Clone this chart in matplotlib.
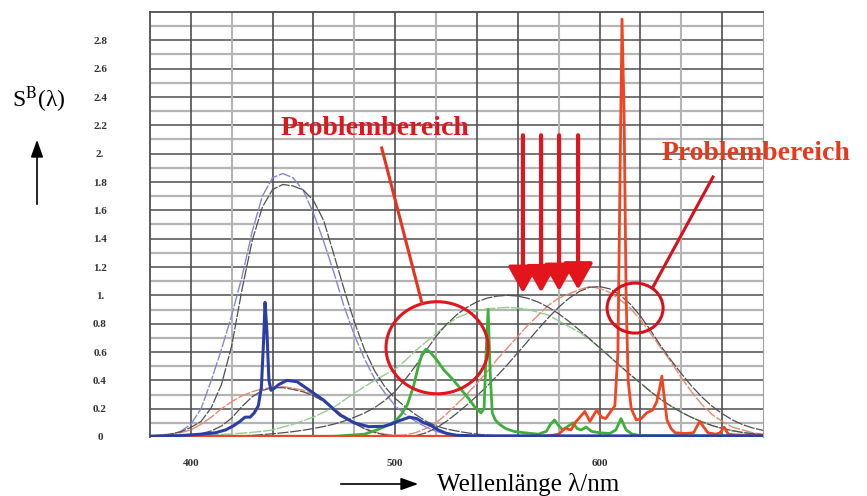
import numpy as np
import matplotlib
matplotlib.use("Agg")
import matplotlib.pyplot as plt
from matplotlib.patches import Ellipse, FancyArrowPatch

matplotlib.rcParams['font.family'] = ['Liberation Serif', 'DejaVu Serif']
matplotlib.rcParams['mathtext.fontset'] = 'stix'

# wavelength grid for the smooth curves (nm)
wl = np.arange(380, 681, 5)

# CIE 1931 colour matching functions (grey curves)
x_bar = [0.0014, 0.0022, 0.0042, 0.0077, 0.0143, 0.0232, 0.0435, 0.0776, 0.1344, 0.2148,
         0.2839, 0.3285, 0.3483, 0.3481, 0.3362, 0.3187, 0.2908, 0.2511, 0.1954, 0.1421,
         0.0956, 0.0580, 0.0320, 0.0147, 0.0049, 0.0024, 0.0093, 0.0291, 0.0633, 0.1096,
         0.1655, 0.2257, 0.2904, 0.3597, 0.4334, 0.5121, 0.5945, 0.6784, 0.7621, 0.8425,
         0.9163, 0.9786, 1.0263, 1.0567, 1.0622, 1.0456, 1.0026, 0.9384, 0.8544, 0.7514,
         0.6424, 0.5419, 0.4479, 0.3608, 0.2835, 0.2187, 0.1649, 0.1212, 0.0874, 0.0636,
         0.0468]
y_bar = [0.0000, 0.0001, 0.0001, 0.0002, 0.0004, 0.0006, 0.0012, 0.0022, 0.0040, 0.0073,
         0.0116, 0.0168, 0.0230, 0.0298, 0.0380, 0.0480, 0.0600, 0.0739, 0.0910, 0.1126,
         0.1390, 0.1693, 0.2080, 0.2586, 0.3230, 0.4073, 0.5030, 0.6082, 0.7100, 0.7932,
         0.8620, 0.9149, 0.9540, 0.9803, 0.9950, 1.0000, 0.9950, 0.9786, 0.9520, 0.9154,
         0.8700, 0.8163, 0.7570, 0.6949, 0.6310, 0.5668, 0.5030, 0.4412, 0.3810, 0.3210,
         0.2650, 0.2170, 0.1750, 0.1382, 0.1070, 0.0816, 0.0610, 0.0446, 0.0320, 0.0232,
         0.0170]
z_bar = [0.0065, 0.0106, 0.0201, 0.0362, 0.0679, 0.1102, 0.2074, 0.3713, 0.6456, 1.0391,
         1.3856, 1.6230, 1.7471, 1.7826, 1.7721, 1.7441, 1.6692, 1.5281, 1.2876, 1.0419,
         0.8130, 0.6162, 0.4652, 0.3533, 0.2720, 0.2123, 0.1582, 0.1117, 0.0783, 0.0573,
         0.0422, 0.0298, 0.0203, 0.0134, 0.0088, 0.0058, 0.0039, 0.0028, 0.0021, 0.0018,
         0.0017, 0.0014, 0.0011, 0.0010, 0.0008, 0.0006, 0.0003, 0.0002, 0.0002, 0.0001,
         0.0, 0.0, 0.0, 0.0, 0.0, 0.0, 0.0, 0.0, 0.0, 0.0,
         0.0]

# camera sensitivities (thin coloured curves)
cam_blue = [0.0, 0.005, 0.015, 0.04, 0.09, 0.20, 0.40, 0.62, 0.86, 1.13,
            1.45, 1.70, 1.83, 1.86, 1.83, 1.74, 1.58, 1.38, 1.16, 0.92,
            0.72, 0.55, 0.41, 0.31, 0.22, 0.16, 0.11, 0.07, 0.04, 0.02,
            0.01, 0.005, 0.0, 0.0, 0.0, 0.0, 0.0, 0.0, 0.0, 0.0,
            0.0, 0.0, 0.0, 0.0, 0.0, 0.0, 0.0, 0.0, 0.0, 0.0,
            0.0, 0.0, 0.0, 0.0, 0.0, 0.0, 0.0, 0.0, 0.0, 0.0,
            0.0]
cam_green = [0.0, 0.0, 0.005, 0.008, 0.01, 0.012, 0.015, 0.018, 0.022, 0.027,
             0.033, 0.04, 0.05, 0.07, 0.09, 0.115, 0.14, 0.175, 0.21, 0.26,
             0.31, 0.355, 0.40, 0.44, 0.48, 0.54, 0.61, 0.67, 0.73, 0.79,
             0.84, 0.87, 0.89, 0.905, 0.91, 0.915, 0.91, 0.90, 0.88, 0.86,
             0.82, 0.78, 0.74, 0.69, 0.63, 0.57, 0.50, 0.44, 0.38, 0.32,
             0.265, 0.22, 0.175, 0.14, 0.11, 0.08, 0.06, 0.045, 0.032, 0.023,
             0.017]
cam_red = [0.01, 0.015, 0.02, 0.03, 0.05, 0.09, 0.14, 0.20, 0.25, 0.29,
           0.32, 0.34, 0.35, 0.355, 0.345, 0.33, 0.30, 0.26, 0.20, 0.15,
           0.10, 0.06, 0.035, 0.02, 0.012, 0.015, 0.03, 0.06, 0.10, 0.16,
           0.23, 0.30, 0.38, 0.46, 0.55, 0.63, 0.71, 0.79, 0.86, 0.93,
           0.98, 1.01, 1.04, 1.06, 1.05, 1.02, 0.97, 0.91, 0.83, 0.73,
           0.63, 0.53, 0.42, 0.32, 0.23, 0.16, 0.11, 0.07, 0.05, 0.03,
           0.02]

# lamp spectrum, three bands (thick curves)
lamp_blue_wl = [380, 395, 405, 412, 417, 421, 424, 426.5, 429, 431, 433, 434.5, 435.5, 436.3,
                437.2, 438.2, 439.2, 440.5, 443, 447, 452, 458, 465, 473, 480, 487, 494,
                498, 502, 507, 510.5, 514, 517, 521, 525, 530, 540, 680]
lamp_blue = [0.005, 0.01, 0.02, 0.03, 0.05, 0.08, 0.11, 0.14, 0.14, 0.17, 0.22, 0.35, 0.65, 0.95,
             0.75, 0.40, 0.33, 0.34, 0.37, 0.40, 0.39, 0.33, 0.26, 0.155, 0.10, 0.073, 0.075,
             0.09, 0.115, 0.14, 0.13, 0.10, 0.085, 0.05, 0.026, 0.012, 0.008, 0.008]

lamp_green_wl = [380, 470, 485, 491, 496, 500, 503, 506, 509, 511, 513, 515, 517, 520, 524, 528,
                 532, 536, 539, 542, 543.5, 544.5, 545.5, 546.5, 547.5, 549, 551, 554, 558, 563,
                 570, 574, 576, 578, 580, 582, 584, 587, 589, 591, 593.5, 596, 600, 605, 608,
                 610.5, 613, 616, 620, 680]
lamp_green = [0.005, 0.005, 0.02, 0.05, 0.08, 0.11, 0.16, 0.23, 0.36, 0.48, 0.58, 0.62, 0.60, 0.55,
              0.47, 0.41, 0.34, 0.27, 0.21, 0.17, 0.20, 0.60, 0.90, 0.45, 0.17, 0.12, 0.09, 0.06,
              0.04, 0.03, 0.02, 0.04, 0.09, 0.12, 0.08, 0.05, 0.07, 0.10, 0.06, 0.05, 0.07, 0.04,
              0.03, 0.025, 0.05, 0.13, 0.05, 0.02, 0.01, 0.005]

lamp_red_wl = [380, 570, 576, 580, 583, 586, 588, 590.4, 592.8, 595.3, 598.6, 601, 603, 605,
               607.5, 609, 610, 611, 612, 613, 614, 615.5, 618, 620.5, 623, 626, 628, 629.5,
               630.5, 631.5, 633, 635, 637, 642, 646, 649, 651, 653, 657, 659, 661, 663, 666, 680]
lamp_red = [0.005, 0.005, 0.01, 0.02, 0.06, 0.05, 0.10, 0.14, 0.18, 0.11, 0.19, 0.14, 0.13, 0.17,
            0.22, 0.6, 1.8, 2.95, 2.3, 1.0, 0.4, 0.2, 0.12, 0.13, 0.17, 0.19, 0.25, 0.35,
            0.43, 0.3, 0.12, 0.06, 0.03, 0.025, 0.03, 0.11, 0.07, 0.03, 0.02, 0.03, 0.07, 0.02,
            0.015, 0.01]

y_ticks = [0, 0.2, 0.4, 0.6, 0.8, 1.0, 1.2, 1.4, 1.6, 1.8, 2.0, 2.2, 2.4, 2.6, 2.8]
y_tick_labels = ['0', '0.2', '0.4', '0.6', '0.8', '1.', '1.2', '1.4', '1.6', '1.8',
                 '2.', '2.2', '2.4', '2.6', '2.8']
x_ticks = [400, 500, 600]

W, H = 867, 496
RED = '#e3141c'


def fig_xy(px, py):
    # pixel position (from top-left) -> figure fraction
    return px / W, 1 - py / H


fig = plt.figure(figsize=(W / 100, H / 100), dpi=100)
ax = fig.add_axes([150 / W, 1 - 437 / H, 613 / W, 425 / H])
ax.set_xlim(380, 680)
ax.set_ylim(0, 3.0)

# dense scanned-style grid
for v in np.arange(0.1, 3.0, 0.2):
    ax.axhline(v, color='#b4b4b4', lw=1.6, zorder=0)
for v in np.arange(0.2, 3.0, 0.2):
    ax.axhline(v, color='#5c5c5c', lw=1.2, zorder=0)
for v in [420, 480, 520, 580, 640]:
    ax.axvline(v, color='#b4b4b4', lw=1.5, zorder=0)
for v in [400, 440, 460, 500, 540, 560, 600, 620, 660]:
    ax.axvline(v, color='#4f4f4f', lw=1.2, zorder=0)

ax.spines['bottom'].set_visible(False)
ax.spines['left'].set_color('#4f4f4f')
ax.spines['top'].set_color('#4f4f4f')
ax.spines['right'].set_color('#a0a0a0')
ax.spines['left'].set_linewidth(1.3)
ax.spines['top'].set_linewidth(1.3)

ax.set_yticks(y_ticks)
ax.set_yticklabels(y_tick_labels, fontsize=8, fontweight='bold', ha='center')
ax.set_xticks(x_ticks)
ax.set_xticklabels([str(t) for t in x_ticks], fontsize=8, fontweight='bold')
ax.tick_params(axis='y', length=0, pad=36, colors='#333333')
ax.tick_params(axis='x', length=0, pad=16, colors='#333333')

# thin curves
dash = (0, (9, 1.2))
ax.plot(wl, cam_blue, color='#8585d8', lw=1.0, ls=dash, zorder=2)
ax.plot(wl, cam_red, color='#e98a70', lw=1.0, ls=dash, zorder=2)
ax.plot(wl, cam_green, color='#8fd08f', lw=1.0, ls=dash, zorder=2)
ax.plot(wl, z_bar, color='#505050', lw=0.9, ls=dash, zorder=2)
ax.plot(wl, y_bar, color='#505050', lw=0.9, ls=dash, zorder=2)
ax.plot(wl, x_bar, color='#505050', lw=0.9, ls=dash, zorder=2)

# lamp spectrum
ax.plot(lamp_green_wl, lamp_green, color='#3cb039', lw=2.0, zorder=3)
ax.plot(lamp_red_wl, lamp_red, color='#f04522', lw=2.0, zorder=3)
ax.plot(lamp_blue_wl, lamp_blue, color='#2a3fa6', lw=2.2, zorder=4)

# annotations
ax.add_patch(Ellipse((520.5, 0.63), 50, 0.65, fill=False, ec=RED, lw=2.2, zorder=6))
ax.add_patch(Ellipse((617.4, 0.91), 27.4, 0.353, fill=False, ec='#d8101c', lw=2.2, zorder=6))
ax.plot([493.4, 513.1], [2.04, 0.945], color='#e8321e', lw=2.2, zorder=6)
ax.plot([655.5, 626.2], [1.835, 1.06], color='#d8101c', lw=2.2, zorder=6, clip_on=False)
ax.text(444.1, 2.13, 'Problembereich', color=RED, fontsize=20, fontweight='bold',
        va='baseline', ha='left', zorder=7)
ax.text(630.6, 1.955, 'Problembereich', color='#e63a1e', fontsize=20, fontweight='bold',
        va='baseline', ha='left', zorder=7, clip_on=False)

for xa, tip in zip([562.5, 571.4, 580.2, 589.5], [1.016, 1.02, 1.03, 1.04]):
    ax.annotate('', xy=(xa, tip), xytext=(xa, 2.13),
                arrowprops=dict(arrowstyle='-|>,head_width=0.45,head_length=0.8',
                                mutation_scale=20, lw=3, color=RED,
                                shrinkA=0, shrinkB=0), zorder=7)

# axis titles with arrows, outside the plot area
fig.text(*fig_xy(12, 100), r'S$^{\mathrm{B}}$(λ)', fontsize=17, va='center', ha='left')
fig.add_artist(FancyArrowPatch(
    fig_xy(37, 207), fig_xy(37, 137), transform=fig.transFigure,
    arrowstyle='-|>,head_width=0.25,head_length=0.7', mutation_scale=15,
    lw=1.2, color='black'))
fig.add_artist(FancyArrowPatch(
    fig_xy(338, 484), fig_xy(421, 484), transform=fig.transFigure,
    arrowstyle='-|>,head_width=0.25,head_length=0.7', mutation_scale=15,
    lw=1.2, color='black'))
fig.text(*fig_xy(437, 484), 'Wellenlänge λ/nm', fontsize=18, va='center', ha='left')

fig.savefig('out.png', dpi=100)
plt.close(fig)
